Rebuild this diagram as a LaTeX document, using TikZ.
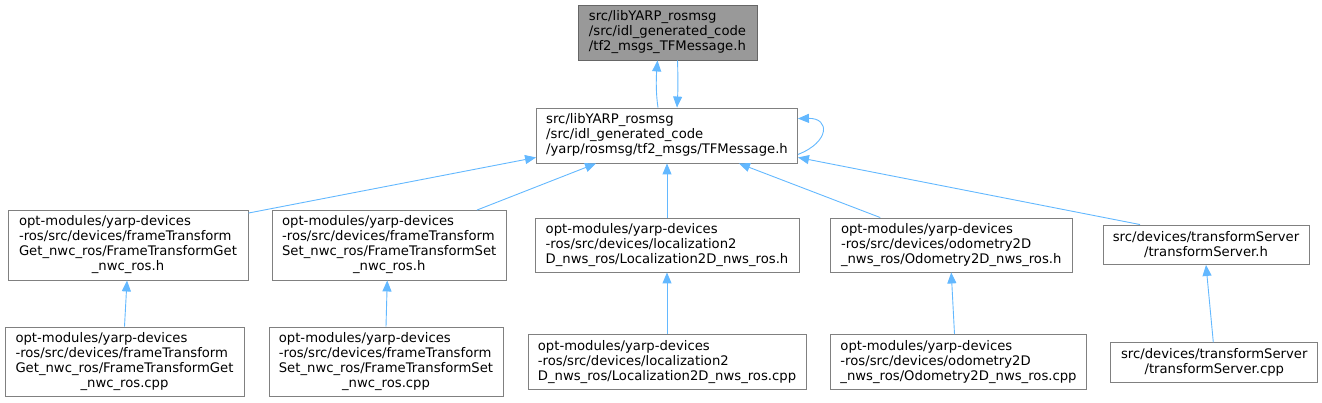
\documentclass[tikz,border=0pt]{standalone}
\usepackage{fontspec}
\setmainfont{DejaVu Sans}
\usetikzlibrary{arrows.meta,positioning}
\definecolor{boxgray}{HTML}{808080}
\definecolor{curgray}{HTML}{999999}
\definecolor{curborder}{HTML}{666666}
\definecolor{deplink}{HTML}{63B8FF}
\tikzset{
  file/.style={draw=boxgray,fill=white,rectangle,align=left,line width=0.9pt,inner xsep=4pt,inner ysep=2pt,font=\fontsize{13.2}{15}\selectfont},
  cur/.style={file,fill=curgray,draw=curborder},
  dep/.style={draw=deplink,line width=0.9pt,{Triangle[length=11pt,width=9pt]}-}
}
\newcommand{\tailc}[2]{\begin{tabular}{@{}l@{}}#1\\\multicolumn{1}{@{}c@{}}{#2}\end{tabular}}

\begin{document}
\begin{tikzpicture}[x=1pt,y=-1pt]
  \useasboundingbox (0,0) rectangle (1322,403);
  \node[cur,minimum width=179pt,minimum height=55pt] (top) at (667.5,32.5) {src/libYARP\_rosmsg\\/src/idl\_generated\_code\\/tf2\_msgs\_TFMessage.h};
  \node[file,minimum width=261pt,minimum height=55pt] (tf) at (667,135.5) {src/libYARP\_rosmsg\\/src/idl\_generated\_code\\/yarp/rosmsg/tf2\_msgs/TFMessage.h};

  \node[file,minimum width=240pt,minimum height=69.5pt] (getH) at (128,245.25) {\tailc{opt-modules/yarp-devices\\-ros/src/devices/frameTransform\\Get\_nwc\_ros/FrameTransformGet}{\_nwc\_ros.h}};
  \node[file,minimum width=234.5pt,minimum height=69.5pt] (setH) at (389.25,245.25) {\tailc{opt-modules/yarp-devices\\-ros/src/devices/frameTransform\\Set\_nwc\_ros/FrameTransformSet}{\_nwc\_ros.h}};
  \node[file,minimum width=264pt,minimum height=54pt] (locH) at (667,245) {opt-modules/yarp-devices\\-ros/src/devices/localization2\\D\_nws\_ros/Localization2D\_nws\_ros.h};
  \node[file,minimum width=241.5pt,minimum height=54pt] (odoH) at (951.25,245) {opt-modules/yarp-devices\\-ros/src/devices/odometry2D\\\_nws\_ros/Odometry2D\_nws\_ros.h};
  \node[file,align=center,minimum width=206pt,minimum height=39.5pt] (tsH) at (1206,244.75) {src/devices/transformServer\\/transformServer.h};

  \node[file,minimum width=239pt,minimum height=69pt] (getC) at (124.5,361.5) {\tailc{opt-modules/yarp-devices\\-ros/src/devices/frameTransform\\Get\_nwc\_ros/FrameTransformGet}{\_nwc\_ros.cpp}};
  \node[file,minimum width=234pt,minimum height=69pt] (setC) at (386,361.5) {\tailc{opt-modules/yarp-devices\\-ros/src/devices/frameTransform\\Set\_nwc\_ros/FrameTransformSet}{\_nwc\_ros.cpp}};
  \node[file,minimum width=278pt,minimum height=54.5pt] (locC) at (667,361.75) {opt-modules/yarp-devices\\-ros/src/devices/localization2\\D\_nws\_ros/Localization2D\_nws\_ros.cpp};
  \node[file,minimum width=256pt,minimum height=54.5pt] (odoC) at (958.5,361.75) {opt-modules/yarp-devices\\-ros/src/devices/odometry2D\\\_nws\_ros/Odometry2D\_nws\_ros.cpp};
  \node[file,align=center,minimum width=207pt,minimum height=40pt] (tsC) at (1214.3,362.7) {src/devices/transformServer\\/transformServer.cpp};

  % include links, arrowhead on the included file
  \draw[dep] ([xshift=-10pt]top.south) .. controls (656,80) and (656,95) .. ([xshift=-9pt]tf.north);
  \draw[dep] ([xshift=10pt]tf.north) .. controls (678,90) and (678,75) .. ([xshift=10pt]top.south);
  \draw[dep] ([yshift=-11pt]tf.north east) .. controls (830,118) and (830,142) .. ([yshift=9pt]tf.south east);
  \draw[dep] ([yshift=6pt]tf.south west) -- ([yshift=-3pt]getH.north east);
  \draw[dep] ([xshift=60pt]tf.south west) -- ([xshift=-30pt]setH.north east);
  \draw[dep] (tf.south) -- (locH.north);
  \draw[dep] ([xshift=-59pt]tf.south east) -- ([xshift=-71pt]odoH.north);
  \draw[dep] ([yshift=6pt]tf.south east) -- ([xshift=-66pt]tsH.north);
  \draw[dep] ([xshift=-1pt]getH.south) -- (getC.north);
  \draw[dep] ([xshift=-2pt]setH.south) -- (setC.north);
  \draw[dep] (locH.south) -- (locC.north);
  \draw[dep] (odoH.south) -- ([xshift=-4pt]odoC.north);
  \draw[dep] (tsH.south) -- ([xshift=-1pt]tsC.north);
\end{tikzpicture}
\end{document}
